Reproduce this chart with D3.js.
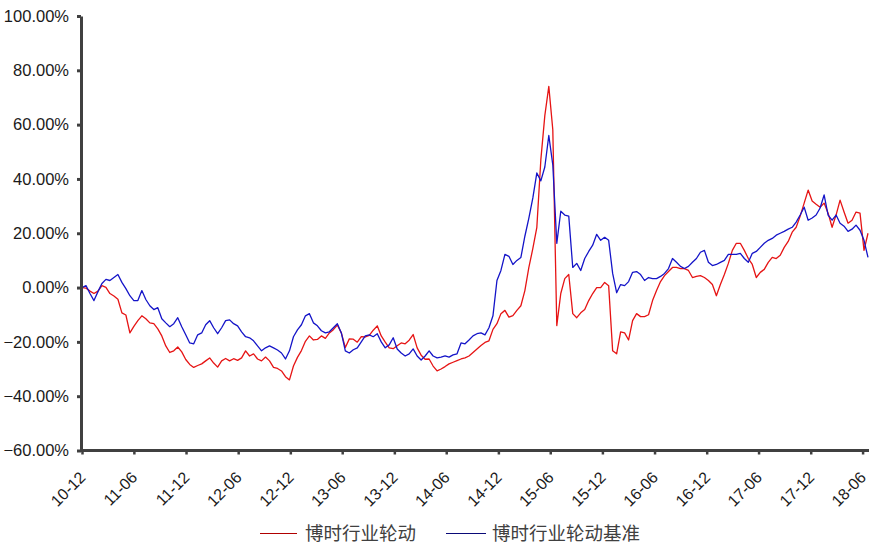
<!DOCTYPE html>
<html>
<head>
<meta charset="utf-8">
<script src="https://cdn.jsdelivr.net/npm/d3@7"></script>
<style>
  body { margin: 0; background: #fff; }
  svg text { font-family: Arial, "Liberation Sans", sans-serif; }
</style>
</head>
<body>
<div id="chart"></div>
<script>
// series names (legend)
var seriesNames = ["博时行业轮动", "博时行业轮动基准"];

// x tick labels (yy-mm), y ticks in percent
var xTickLabels = ["10-12","11-06","11-12","12-06","12-12","13-06","13-12","14-06",
                   "14-12","15-06","15-12","16-06","16-12","17-06","17-12","18-06"];
var yTicks = [-60, -40, -20, 0, 20, 40, 60, 80, 100];

// samples every 14 days starting here
var firstDay = "2010-12-01", stepDays = 14;

// cumulative return, % (博时行业轮动)
var fundValues = [
  0, -0.2, -1.3, -2.2, -1.3, 0.7, 0.1, -2.2, -3.1, -4.3,
  -9.3, -10.1, -16.7, -14.3, -12.2, -10.4, -11.5, -13.0, -13.3, -15.2,
  -17.8, -21.5, -23.9, -23.3, -21.9, -23.7, -26.5, -28.3, -29.4, -28.7,
  -28.1, -27.0, -25.9, -27.8, -29.3, -27.0, -26.1, -27.0, -26.2, -26.8,
  -25.9, -23.3, -25.2, -24.4, -26.3, -27.0, -25.6, -27.0, -29.4, -29.8,
  -30.7, -32.8, -34.0, -28.9, -25.7, -23.2, -19.8, -17.8, -19.3, -19.1,
  -17.8, -18.7, -16.7, -15.5, -13.8, -16.7, -22.1, -18.9, -19.0, -20.1,
  -18.1, -18.2, -17.6, -15.7, -14.1, -17.8, -20.1, -22.2, -22.5, -21.4,
  -20.4, -20.7, -19.4, -17.3, -22.2, -24.9, -26.4, -26.3, -28.9, -30.7,
  -30.0, -29.1, -28.1, -27.5, -26.9, -26.3, -25.9, -25.2, -23.9, -22.6,
  -21.3, -20.2, -19.6, -15.4, -13.3, -9.6, -8.4, -10.9, -10.3, -8.4,
  -6.7, -1.1, 7.4, 14.4, 22.2, 47.0, 63.3, 74.1, 58.1, -14.0,
  -2.2, 3.3, 4.8, -9.6, -11.1, -9.3, -8.1, -4.8, -2.2, 0,
  0, 1.9, 0.7, -23.3, -24.4, -16.3, -16.7, -19.3, -12.2, -9.6,
  -10.7, -10.7, -10.0, -4.8, -1.1, 2.2, 4.4, 5.9, 7.4, 7.4,
  7.0, 7.0, 6.3, 3.7, 4.1, 4.4, 3.7, 2.6, 1.1, -3.0,
  1.1, 4.8, 8.9, 13.7, 16.3, 16.3, 13.7, 10.7, 8.5, 3.7,
  5.6, 6.7, 9.3, 11.1, 10.7, 11.9, 14.8, 17.0, 20.4, 22.2,
  26.3, 31.1, 35.9, 31.9, 30.7, 29.6, 31.1, 27.4, 22.2, 26.7,
  32.2, 27.8, 23.7, 24.8, 27.8, 27.4, 13.7, 20.0
];

// cumulative return, % (博时行业轮动基准)
var benchValues = [
  0, 0.7, -2.2, -4.8, -1.5, 1.5, 3.0, 2.6, 3.7, 4.8,
  1.9, -0.4, -3.0, -4.8, -4.8, -1.1, -4.4, -6.7, -8.1, -7.4,
  -11.5, -13.0, -14.4, -13.3, -11.1, -14.4, -17.4, -20.4, -20.7, -17.4,
  -16.7, -13.7, -12.2, -14.8, -17.0, -14.8, -12.2, -11.9, -13.3, -14.1,
  -16.3, -18.1, -18.5, -19.6, -21.5, -23.3, -22.2, -21.5, -22.2, -23.0,
  -24.1, -26.3, -23.3, -18.1, -15.6, -13.7, -10.4, -9.6, -13.0, -14.1,
  -15.9, -16.7, -16.3, -14.8, -13.3, -16.7, -23.3, -24.1, -22.9, -22.2,
  -20.0, -17.8, -17.4, -18.1, -17.0, -20.0, -22.2, -21.1, -18.5, -22.6,
  -24.1, -25.2, -24.4, -22.6, -25.2, -26.7, -25.2, -23.3, -25.2, -25.9,
  -25.6, -25.2, -25.6, -24.8, -24.4, -20.4, -20.7, -19.3, -17.8, -17.0,
  -16.7, -17.4, -14.8, -10.4, 2.6, 6.3, 12.2, 11.5, 8.5, 10.0,
  11.1, 18.9, 25.6, 33.0, 42.2, 39.3, 44.4, 56.0, 45.2, 16.3,
  28.1, 26.7, 26.3, 7.4, 8.9, 6.3, 10.7, 13.3, 15.6, 19.6,
  17.4, 18.5, 17.4, 5.2, -1.9, 1.1, 0.7, 2.2, 5.6, 5.9,
  4.8, 2.6, 3.7, 3.3, 3.3, 4.1, 5.2, 7.0, 10.7, 9.3,
  7.8, 7.0, 7.8, 9.3, 10.7, 13.0, 13.7, 9.3, 8.1, 8.5,
  9.3, 10.0, 12.2, 12.2, 12.2, 12.6, 10.7, 9.3, 12.6, 13.3,
  14.8, 16.3, 17.4, 18.1, 19.3, 20.0, 20.7, 21.5, 22.2, 24.1,
  26.7, 29.6, 24.8, 25.6, 26.7, 29.3, 34.1, 26.7, 24.8, 26.7,
  23.7, 22.6, 20.7, 21.5, 23.0, 21.1, 17.4, 11.1
];

var colors = ["#e61414", "#1414c8"];
var legendColors = ["#b00000", "#0a0a78"];

var width = 882, height = 549;
var axisColor = "#404040";

var svg = d3.select("#chart").append("svg")
    .attr("width", width)
    .attr("height", height);

var start = d3.timeParse("%Y-%m-%d")(firstDay);
var dates = fundValues.map(function (d, i) { return d3.timeDay.offset(start, i * stepDays); });
var parseTick = d3.timeParse("%y-%m");
var tickDates = xTickLabels.map(parseTick);

var x = d3.scaleTime()
    .domain([start, dates[dates.length - 1]])
    .range([82, 868]);

var y = d3.scaleLinear()
    .domain([-60, 100])
    .range([450.5, 16]);

var line = d3.line()
    .x(function (d) { return x(d.date); })
    .y(function (d) { return y(d.value); });

var series = [fundValues, benchValues].map(function (vals) {
  return vals.map(function (v, i) { return {date: dates[i], value: v}; });
});

series.forEach(function (s, k) {
  svg.append("path")
    .datum(s)
    .attr("fill", "none")
    .attr("stroke", colors[k])
    .attr("stroke-width", 1.3)
    .attr("stroke-linejoin", "round")
    .attr("d", line);
});

// y axis
var yAxis = svg.append("g")
    .attr("transform", "translate(81,0)")
    .call(d3.axisLeft(y)
      .tickValues(yTicks)
      .tickSize(4)
      .tickSizeOuter(0)
      .tickPadding(8)
      .tickFormat(function (d) { return d3.format(".2f")(d) + "%"; }));
yAxis.select(".domain").attr("stroke", axisColor).attr("stroke-width", 3);
yAxis.selectAll(".tick line").attr("stroke", axisColor).attr("stroke-width", 3);
yAxis.selectAll(".tick text")
    .attr("fill", "#1a1a1a")
    .style("font-size", "16.5px");

// x axis
var xAxis = svg.append("g")
    .attr("transform", "translate(0,450.5)")
    .call(d3.axisBottom(x)
      .tickValues(tickDates)
      .tickSize(4)
      .tickSizeOuter(0)
      .tickFormat(function (d, i) { return xTickLabels[i]; }));
xAxis.select(".domain").attr("stroke", axisColor).attr("stroke-width", 3)
    .attr("d", "M80,0H869");
xAxis.selectAll(".tick line").attr("stroke", axisColor).attr("stroke-width", 2.5);
xAxis.selectAll(".tick text")
    .attr("fill", "#1a1a1a")
    .style("font-size", "16px")
    .attr("text-anchor", "end")
    .attr("y", 0)
    .attr("dy", 0)
    .attr("transform", "translate(4,28) rotate(-45)");

// legend
var legendPos = [{x1: 260, x2: 297, tx: 305}, {x1: 446, x2: 486, tx: 492}];
legendPos.forEach(function (p, k) {
  svg.append("line")
    .attr("x1", p.x1).attr("x2", p.x2)
    .attr("y1", 533.5).attr("y2", 533.5)
    .attr("stroke", legendColors[k])
    .attr("stroke-width", 1.2);
  svg.append("text")
    .attr("x", p.tx)
    .attr("y", 540)
    .attr("fill", "#404040")
    .style("font-family", "'Noto Sans CJK SC', sans-serif")
    .style("font-size", "18.5px")
    .text(seriesNames[k]);
});
</script>
</body>
</html>
